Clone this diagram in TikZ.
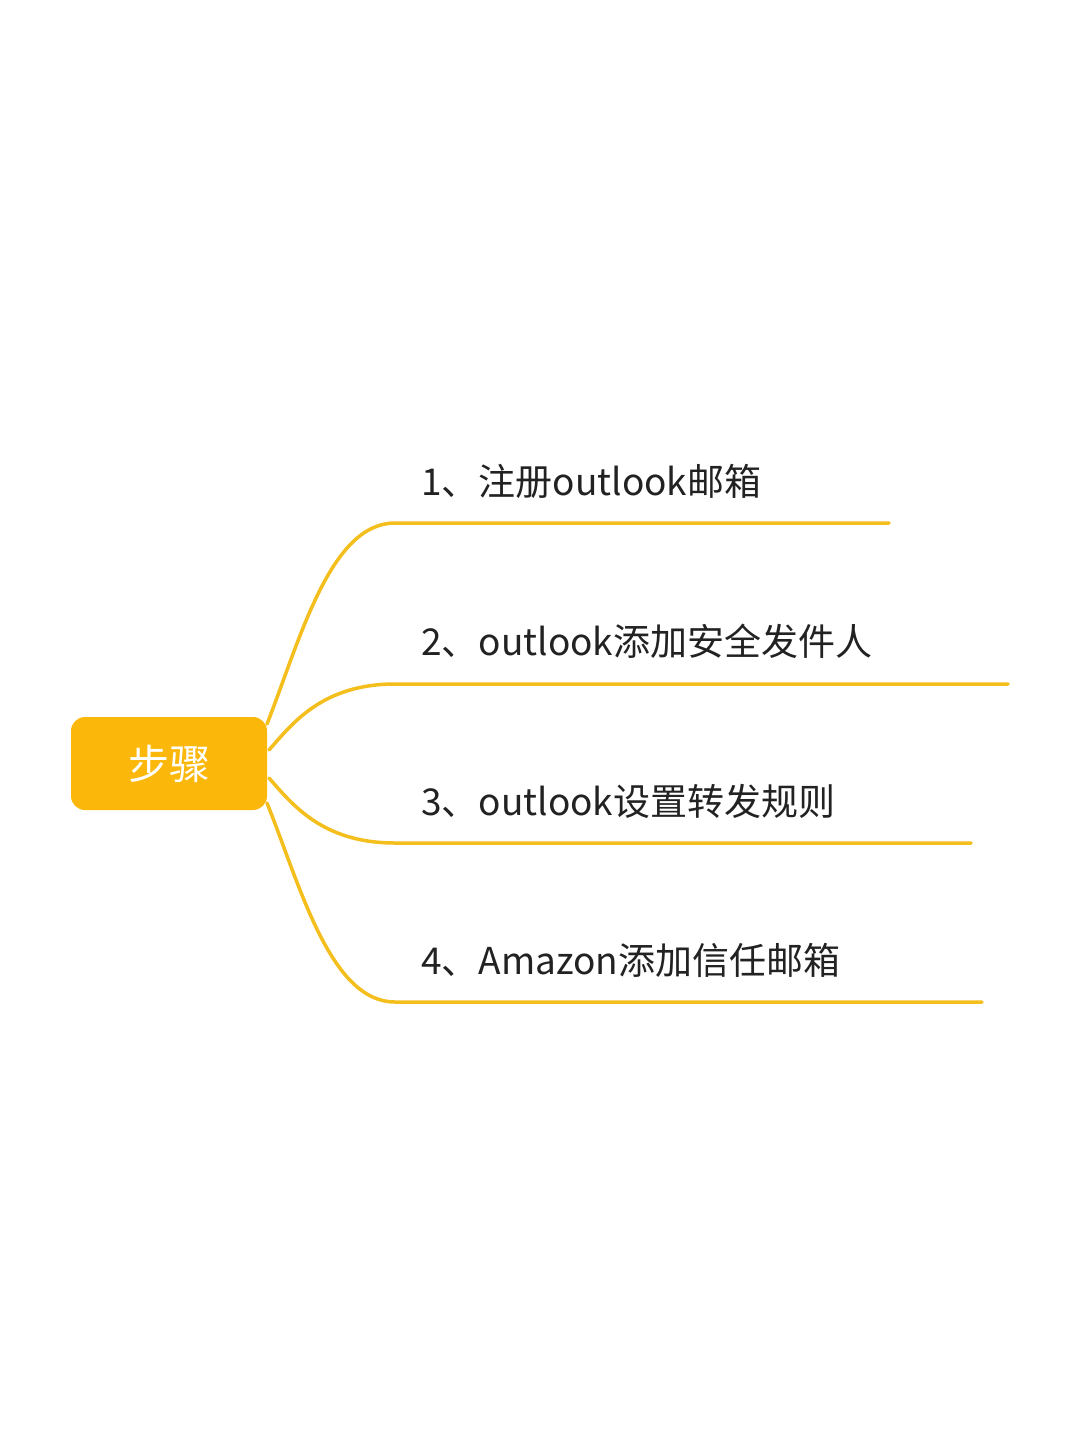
\documentclass[tikz,border=0pt]{standalone}
\usepackage{fontspec}
\setmainfont{Noto Sans CJK SC}
\definecolor{boxfill}{HTML}{FBB80A}
\definecolor{branch}{HTML}{F4BE1C}
\definecolor{labeltext}{HTML}{222222}
\begin{document}
\begin{tikzpicture}[x=1pt,y=-1pt,
  rootbox/.style={fill=boxfill, rounded corners=14pt, minimum width=196pt, minimum height=93pt, inner sep=0pt, text=white, font=\fontsize{41}{48}\selectfont},
  steplabel/.style={anchor=base west, inner sep=0pt, text=labeltext, font=\fontsize{37}{44}\selectfont},
  branchline/.style={draw=branch, line width=3.5pt, line cap=round}]
\useasboundingbox (0,0) rectangle (1080,1440);
\fill[white] (0,0) rectangle (1080,1440);

\node[rootbox] (root) at (169,763.5) {步骤};

\node[steplabel] (l1) at (421,495) {1、注册outlook邮箱};
\node[steplabel] (l2) at (421,655) {2、outlook添加安全发件人};
\node[steplabel] (l3) at (421,815) {3、outlook设置转发规则};
\node[steplabel] (l4) at (421,974) {4、Amazon添加信任邮箱};

\coordinate (s1) at (267,724);
\coordinate (s2) at (269,750);
\coordinate (s3) at (269,778);
\coordinate (s4) at (267,803);

\coordinate (b1) at (395,523);  \coordinate (e1) at (889,523);
\coordinate (b2) at (395,684);  \coordinate (e2) at (1008,684);
\coordinate (b3) at (395,843);  \coordinate (e3) at (971,843);
\coordinate (b4) at (395,1002); \coordinate (e4) at (982,1002);

\draw[branchline] (s1) .. controls (300,640) and (330,523) .. (b1) -- (e1);
\draw[branchline] (s2) .. controls (292,724) and (322,684) .. (b2) -- (e2);
\draw[branchline] (s3) .. controls (292,804) and (322,843) .. (b3) -- (e3);
\draw[branchline] (s4) .. controls (300,885) and (330,1002) .. (b4) -- (e4);
\end{tikzpicture}
\end{document}
